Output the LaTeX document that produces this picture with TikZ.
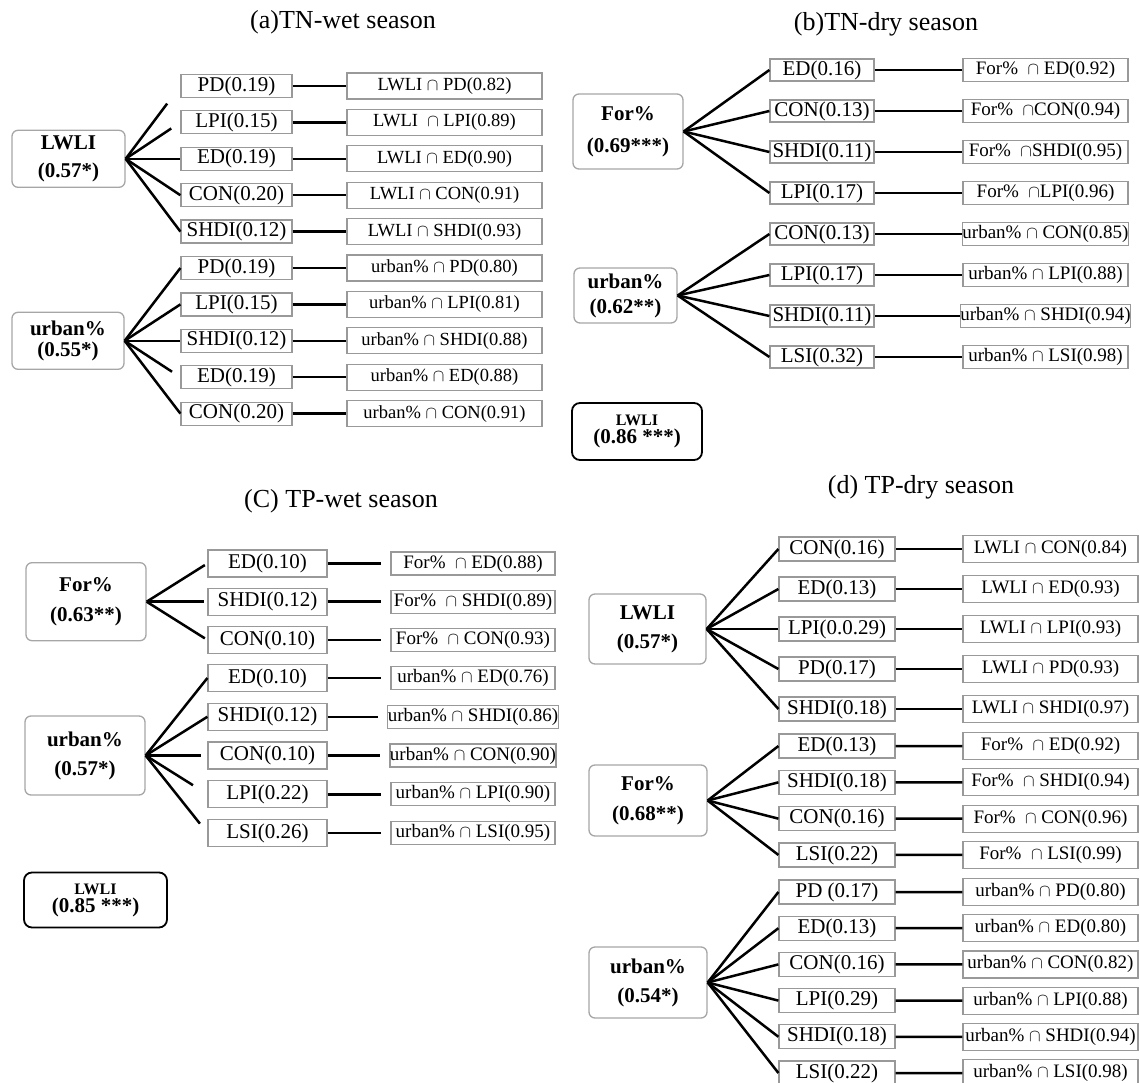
\documentclass[tikz,border=0pt]{standalone}
\usepackage{fontspec}
\setmainfont{Liberation Serif}
\usepackage{tikz}

\tikzset{
  ttl/.style={font=\fontsize{26}{28}\selectfont},
  root/.style={draw=gray!70, rounded corners=6pt, line width=1.3pt, align=center,
    inner sep=0pt, font=\bfseries\fontsize{21}{#1}\selectfont},
  root/.default=29pt,
  mid/.style={draw=gray!80, line width=1.2pt, inner sep=0pt, font=\fontsize{21}{23}\selectfont},
  pair/.style={draw=gray!80, line width=1.2pt, inner sep=0pt, font=\fontsize{19}{22}\selectfont},
  total/.style={draw, rounded corners=8pt, line width=1.8pt, align=center,
    inner sep=0pt, font=\bfseries\fontsize{21}{18}\selectfont},
  fan/.style={grow'=right, parent anchor=east, child anchor=west,
    edge from parent/.style={draw, line width=2.5pt}},
}

\begin{document}
\begin{tikzpicture}[x=1pt,y=-1pt]
\useasboundingbox (0,0) rectangle (1140,1083);

% (a) TN wet season
\node[ttl] (ta) at (343,22) {(a)TN-wet season};
\node[root=28pt, minimum width=113pt, minimum height=57pt] (aLW) at (68.5,158.8) {LWLI\\(0.57*)}
  [fan, level 1/.style={level distance=168pt, sibling distance=36.4pt, nodes={mid, minimum width=111pt, minimum height=23pt}},
   level 2/.style={level distance=208pt, nodes={pair, font=\fontsize{18.5}{22}\selectfont, minimum width=195pt, minimum height=26pt}}]
  child {node (aLW1) {PD(0.19)} child {node (aLW1x) {LWLI $\cap$ PD(0.82)}} edge from parent[shorten >=22pt]}
  child {node (aLW2) {LPI(0.15)} child {node (aLW2x) {LWLI \ $\cap$ LPI(0.89)}} edge from parent[shorten >=11pt]}
  child {node (aLW3) {ED(0.19)} child {node (aLW3x) {LWLI $\cap$ ED(0.90)}}}
  child {node (aLW4) {CON(0.20)} child {node (aLW4x) {LWLI $\cap$ CON(0.91)}}}
  child {node (aLW5) {SHDI(0.12)} child {node (aLW5x) {LWLI $\cap$ SHDI(0.93)}}};
\node[root=21pt, minimum width=112pt, minimum height=57pt] (aUR) at (68,340.8) {urban\%\\(0.55*)}
  [fan, level 1/.style={level distance=168.5pt, sibling distance=36.4pt, nodes={mid, minimum width=111pt, minimum height=23pt}},
   level 2/.style={level distance=208pt, nodes={pair, font=\fontsize{18.5}{22}\selectfont, minimum width=195pt, minimum height=26pt}}]
  child {node (aUR1) {PD(0.19)} child {node (aUR1x) {urban\% $\cap$ PD(0.80)}}}
  child {node (aUR2) {LPI(0.15)} child {node (aUR2x) {urban\% $\cap$ LPI(0.81)}}}
  child {node (aUR3) {SHDI(0.12)} child {node (aUR3x) {urban\% $\cap$ SHDI(0.88)}}}
  child {node (aUR4) {ED(0.19)} child {node (aUR4x) {urban\% $\cap$ ED(0.88)}} edge from parent[shorten >=10pt]}
  child {node (aUR5) {CON(0.20)} child {node (aUR5x) {urban\% $\cap$ CON(0.91)}}};

% (b) TN dry season
\node[ttl] (tb) at (886,24) {(b)TN-dry season};
\node[root=32pt, minimum width=110pt, minimum height=75pt] (bFO) at (628,131.5) {For\%\\(0.69***)}
  [fan, level 1/.style={level distance=194pt, sibling distance=41pt, nodes={mid, minimum width=104pt, minimum height=22pt}},
   level 2/.style={level distance=223.5pt, nodes={pair, minimum width=165pt, minimum height=23pt}}]
  child {node (bFO1) {ED(0.16)} child {node (bFO1x) {For\% \ $\cap$ ED(0.92)}}}
  child {node (bFO2) {CON(0.13)} child {node (bFO2x) {For\% \ $\cap$CON(0.94)}}}
  child {node (bFO3) {SHDI(0.11)} child {node (bFO3x) {For\% \ $\cap$SHDI(0.95)}}}
  child {node (bFO4) {LPI(0.17)} child {node (bFO4x) {For\% \ $\cap$LPI(0.96)}}};
\node[root=25pt, minimum width=103pt, minimum height=55pt] (bUR) at (625.5,295.5) {urban\%\\(0.62**)}
  [fan, level 1/.style={level distance=196.5pt, sibling distance=41pt, nodes={mid, minimum width=104pt, minimum height=22pt}},
   level 2/.style={level distance=223.5pt, nodes={pair, minimum width=165pt, minimum height=23pt}}]
  child {node (bUR1) {CON(0.13)} child {node (bUR1x) {urban\% $\cap$ CON(0.85)}}}
  child {node (bUR2) {LPI(0.17)} child {node (bUR2x) {urban\% $\cap$ LPI(0.88)}}}
  child {node (bUR3) {SHDI(0.11)} child {node (bUR3x) {urban\% $\cap$ SHDI(0.94)}}}
  child {node (bUR4) {LSI(0.32)} child {node (bUR4x) {urban\% $\cap$ LSI(0.98)}}};
\node[total, minimum width=130pt, minimum height=57pt] (bTot) at (637,431.5) {{\fontsize{16}{18}\selectfont LWLI}\\(0.86 ***)};

% (c) TP wet season
\node[ttl] (tc) at (341,501) {(C) TP-wet season};
\node[root=30pt, minimum width=120pt, minimum height=78pt] (cFO) at (86,601.7) {For\%\\(0.63**)}
  [fan, level 1/.style={level distance=181.5pt, sibling distance=38.25pt, nodes={mid, minimum width=119pt, minimum height=27pt},
     edge from parent/.append style={shorten >=3pt}},
   level 2/.style={level distance=205.5pt, nodes={pair, minimum width=164pt, minimum height=23pt},
     edge from parent/.append style={shorten >=9pt}}]
  child {node (cFO1) {ED(0.10)} child {node (cFO1x) {For\% \ $\cap$ ED(0.88)}}}
  child {node (cFO2) {SHDI(0.12)} child {node (cFO2x) {For\% \ $\cap$ SHDI(0.89)}}}
  child {node (cFO3) {CON(0.10)} child {node (cFO3x) {For\% \ $\cap$ CON(0.93)}}};
\node[root=29pt, minimum width=120pt, minimum height=79pt] (cUR) at (85,755.5) {urban\%\\(0.57*)}
  [fan, level 1/.style={level distance=182.5pt, sibling distance=38.75pt, nodes={mid, minimum width=119pt, minimum height=27pt}},
   level 2/.style={level distance=205.5pt, nodes={pair, minimum width=164pt, minimum height=23pt},
     edge from parent/.append style={shorten >=9pt}}]
  child {node (cUR1) {ED(0.10)} child {node (cUR1x) {urban\% $\cap$ ED(0.76)}}}
  child {node (cUR2) {SHDI(0.12)} child {node (cUR2x) {urban\% $\cap$ SHDI(0.86)}}}
  child {node (cUR3) {CON(0.10)} child {node (cUR3x) {urban\% $\cap$ CON(0.90)}} edge from parent[shorten >=6pt]}
  child {node (cUR4) {LPI(0.22)} child {node (cUR4x) {urban\% $\cap$ LPI(0.90)}} edge from parent[shorten >=17pt]}
  child {node (cUR5) {LSI(0.26)} child {node (cUR5x) {urban\% $\cap$ LSI(0.95)}} edge from parent[shorten >=12pt]};
\node[total, minimum width=143pt, minimum height=55pt] (cTot) at (95.5,900) {{\fontsize{16}{18}\selectfont LWLI}\\(0.85 ***)};

% (d) TP dry season
\node[ttl] (td) at (921,487) {(d) TP-dry season};
\node[root=29pt, minimum width=117pt, minimum height=70pt] (dLW) at (647.5,629) {LWLI\\(0.57*)}
  [fan, level 1/.style={level distance=189.5pt, sibling distance=40pt, nodes={mid, minimum width=116pt, minimum height=24pt}},
   level 2/.style={level distance=213.5pt, nodes={pair, minimum width=175pt, minimum height=27pt}}]
  child {node (dLW1) {CON(0.16)} child {node (dLW1x) {LWLI $\cap$ CON(0.84)}}}
  child {node (dLW2) {ED(0.13)} child {node (dLW2x) {LWLI $\cap$ ED(0.93)}}}
  child {node (dLW3) {LPI(0.0.29)} child {node (dLW3x) {LWLI $\cap$ LPI(0.93)}}}
  child {node (dLW4) {PD(0.17)} child {node (dLW4x) {LWLI $\cap$ PD(0.93)}}}
  child {node (dLW5) {SHDI(0.18)} child {node (dLW5x) {LWLI $\cap$ SHDI(0.97)}}};
\node[root=30pt, minimum width=118pt, minimum height=71pt] (dFO) at (648,800.5) {For\%\\(0.68**)}
  [fan, level 1/.style={level distance=189pt, sibling distance=36.3pt, nodes={mid, minimum width=116pt, minimum height=24pt}},
   level 2/.style={level distance=213.5pt, nodes={pair, minimum width=175pt, minimum height=27pt}}]
  child {node (dFO1) {ED(0.13)} child {node (dFO1x) {For\% \ $\cap$ ED(0.92)}}}
  child {node (dFO2) {SHDI(0.18)} child {node (dFO2x) {For\% \ $\cap$ SHDI(0.94)}}}
  child {node (dFO3) {CON(0.16)} child {node (dFO3x) {For\% \ $\cap$ CON(0.96)}}}
  child {node (dFO4) {LSI(0.22)} child {node (dFO4x) {For\% \ $\cap$ LSI(0.99)}}};
\node[root=29pt, minimum width=118pt, minimum height=71pt] (dUR) at (648,982.5) {urban\%\\(0.54*)}
  [fan, level 1/.style={level distance=189pt, sibling distance=36.2pt, nodes={mid, minimum width=116pt, minimum height=24pt}},
   level 2/.style={level distance=213.5pt, nodes={pair, minimum width=175pt, minimum height=27pt}}]
  child {node (dUR1) {PD (0.17)} child {node (dUR1x) {urban\% $\cap$ PD(0.80)}}}
  child {node (dUR2) {ED(0.13)} child {node (dUR2x) {urban\% $\cap$ ED(0.80)}}}
  child {node (dUR3) {CON(0.16)} child {node (dUR3x) {urban\% $\cap$ CON(0.82)}}}
  child {node (dUR4) {LPI(0.29)} child {node (dUR4x) {urban\% $\cap$ LPI(0.88)}}}
  child {node (dUR5) {SHDI(0.18)} child {node (dUR5x) {urban\% $\cap$ SHDI(0.94)}}}
  child {node (dUR6) {LSI(0.22)} child {node (dUR6x) {urban\% $\cap$ LSI(0.98)}}};
\end{tikzpicture}
\end{document}
